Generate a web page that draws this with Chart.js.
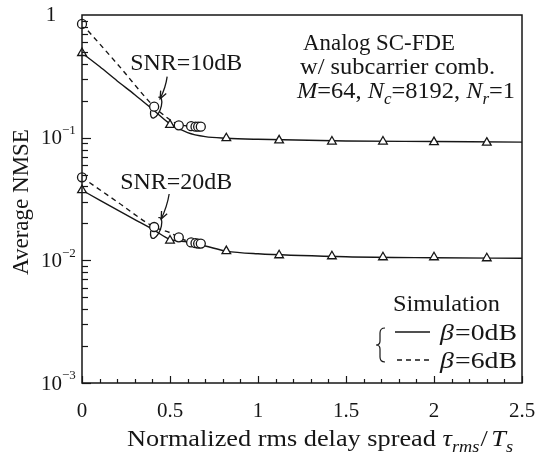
<!DOCTYPE html>
<html>
<head>
<meta charset="utf-8">
<script src="https://cdn.jsdelivr.net/npm/chart.js@4"></script>
<style>
  html, body { margin: 0; padding: 0; background: #fff; }
</style>
</head>
<body>
<canvas id="chart" width="538" height="455"></canvas>
<script>
const SERIF = '"Liberation Serif", "Times New Roman", serif';
const INK = '#161616';

// normalized rms delay spread positions
const tauTri = [0, 0.5, 0.82, 1.12, 1.42, 1.71, 2.0, 2.3];
const tauCirc = [0, 0.41, 0.55, 0.62, 0.645, 0.66, 0.675];
const tauLine = [0, 0.1, 0.2, 0.3, 0.41, 0.5, 0.6, 0.7, 0.82, 1.0, 1.5, 2.0, 2.5];
const tauDash = [0, 0.2, 0.41, 0.5, 0.55, 0.62, 0.675];

// SNR = 10 dB
const snr10Solid = [0.49, 0.38, 0.29, 0.224, 0.166, 0.13, 0.11, 0.102, 0.099, 0.097, 0.094, 0.093, 0.092];
const snr10Dash = [0.845, 0.40, 0.179, 0.14, 0.128, 0.124, 0.123];
const snr10Tri = [0.49, 0.127, 0.099, 0.095, 0.093, 0.093, 0.092, 0.091];
const snr10Circ = [0.845, 0.179, 0.126, 0.124, 0.123, 0.123, 0.123];

// SNR = 20 dB
const snr20Solid = [0.0373, 0.031, 0.0258, 0.0215, 0.0176, 0.0148, 0.0141, 0.0131, 0.0119, 0.0113, 0.0107, 0.0105, 0.0104];
const snr20Dash = [0.0475, 0.030, 0.0187, 0.0168, 0.0154, 0.0140, 0.0137];
const snr20Tri = [0.0373, 0.0145, 0.0119, 0.0110, 0.0108, 0.0106, 0.0106, 0.0104];
const snr20Circ = [0.0475, 0.0187, 0.0154, 0.0140, 0.0138, 0.0137, 0.0137];

const xTicks = [0, 0.5, 1, 1.5, 2, 2.5];
const yTicks = [1, 0.1, 0.01, 0.001];
const yTickExp = ['', '\u22121', '\u22122', '\u22123'];

function pts(xs, ys) {
    return xs.map((x, i) => ({ x, y: ys[i] }));
}

function lineSet(xs, ys, dashed) {
    return {
        data: pts(xs, ys),
        borderColor: INK,
        borderWidth: 1.4,
        borderDash: dashed ? [5, 4] : [],
        pointRadius: 0,
        cubicInterpolationMode: 'monotone',
        fill: false,
        clip: false,
        order: 2
    };
}

function markerSet(xs, ys, style) {
    return {
        data: pts(xs, ys),
        showLine: false,
        pointStyle: style,
        pointRadius: style === 'triangle' ? 5 : 4.5,
        pointBackgroundColor: '#fff',
        pointBorderColor: INK,
        pointBorderWidth: 1.3,
        clip: false,
        order: 1
    };
}

// draws a run of text pieces (italic / subscript) starting at x,
// optionally stretched to a given width
function rich(ctx, x, y, parts, size, width) {
    const fontFor = p => (p.i ? 'italic ' : '') + (p.sub ? Math.round(size * 0.7) : size) + 'px ' + SERIF;
    let w = 0;
    parts.forEach(p => { ctx.font = fontFor(p); w += ctx.measureText(p.t).width + (p.gap || 0); });
    ctx.save();
    ctx.translate(x, y);
    if (width) ctx.scale(width / w, 1);
    let cx = 0;
    parts.forEach(p => {
        ctx.font = fontFor(p);
        ctx.fillText(p.t, cx, p.sub ? size * 0.24 : 0);
        cx += ctx.measureText(p.t).width + (p.gap || 0);
    });
    ctx.restore();
}

function arrow(ctx, x0, y0, x1, y1, bend) {
    const mx = (x0 + x1) / 2 + bend, my = (y0 + y1) / 2;
    ctx.beginPath();
    ctx.moveTo(x0, y0);
    ctx.quadraticCurveTo(mx, my, x1, y1);
    ctx.stroke();
    const ang = Math.atan2(y1 - my, x1 - mx);
    ctx.beginPath();
    ctx.moveTo(x1 - 8 * Math.cos(ang - 0.4), y1 - 8 * Math.sin(ang - 0.4));
    ctx.lineTo(x1, y1);
    ctx.lineTo(x1 - 8 * Math.cos(ang + 0.4), y1 - 8 * Math.sin(ang + 0.4));
    ctx.stroke();
}

const decor = {
    id: 'decor',
    afterDraw(chart) {
        const { ctx, chartArea: a, scales: { x, y } } = chart;
        ctx.save();
        ctx.strokeStyle = INK;
        ctx.fillStyle = INK;

        // frame
        ctx.lineWidth = 1.5;
        ctx.strokeRect(a.left, a.top, a.right - a.left, a.bottom - a.top);

        // x ticks (inward)
        ctx.lineWidth = 1.2;
        for (let i = 0; i <= 25; i++) {
            const px = Math.round(x.getPixelForValue(i / 10)) + 0.5;
            const len = i % 5 === 0 ? 7 : 4;
            ctx.beginPath();
            ctx.moveTo(px, a.bottom);
            ctx.lineTo(px, a.bottom - len);
            ctx.stroke();
        }
        // y ticks (log, inward)
        for (let d = -3; d < 0; d++) {
            for (let m = 1; m < 10; m++) {
                const py = Math.round(y.getPixelForValue(m * Math.pow(10, d))) + 0.5;
                const len = m === 1 ? 9 : 6;
                ctx.beginPath();
                ctx.moveTo(a.left, py);
                ctx.lineTo(a.left + len, py);
                ctx.stroke();
            }
        }

        // y tick labels
        ctx.textBaseline = 'middle';
        yTicks.forEach((v, i) => {
            const py = y.getPixelForValue(v);
            ctx.font = '21px ' + SERIF;
            if (i === 0) {
                ctx.textAlign = 'center';
                ctx.fillText('1', a.left - 31, py);
            } else {
                ctx.textAlign = 'right';
                ctx.fillText('10', a.left - 20, py + 1);
                ctx.textAlign = 'left';
                ctx.font = '13px ' + SERIF;
                ctx.fillText(yTickExp[i], a.left - 20, py - 7);
            }
        });

        // axis titles
        ctx.textBaseline = 'alphabetic';
        ctx.textAlign = 'left';
        rich(ctx, a.left + 45, 446, [
            { t: 'Normalized rms delay spread ' }, { t: '\u03c4', i: true }, { t: 'rms', i: true, sub: true, gap: 1 },
            { t: '/', gap: 3 }, { t: 'T', i: true }, { t: 's', i: true, sub: true }
        ], 23, 386);

        ctx.save();
        ctx.translate(22, (a.top + a.bottom) / 2 + 3);
        ctx.rotate(-Math.PI / 2);
        ctx.textAlign = 'center';
        ctx.textBaseline = 'middle';
        ctx.font = '23px ' + SERIF;
        ctx.fillText('Average NMSE', 0, 0);
        ctx.restore();

        // text box, upper right
        ctx.textAlign = 'left';
        rich(ctx, a.left + 221, a.top + 35, [{ t: 'Analog SC-FDE' }], 23, 152);
        rich(ctx, a.left + 218, a.top + 59, [{ t: 'w/ subcarrier comb.' }], 23, 195);
        rich(ctx, a.left + 215, a.top + 83, [
            { t: 'M', i: true }, { t: '=64, ' }, { t: 'N', i: true }, { t: 'c', i: true, sub: true },
            { t: '=8192, ' }, { t: 'N', i: true }, { t: 'r', i: true, sub: true }, { t: '=1' }
        ], 23, 218);

        // SNR annotations, anchored on the circle at tau = 0.41
        [[snr10Circ[1], 'SNR=10dB'], [snr20Circ[1], 'SNR=20dB']].forEach(([v, label], k) => {
            const px = x.getPixelForValue(tauCirc[1]);
            const py = y.getPixelForValue(v);
            ctx.lineWidth = 1.3;
            ctx.beginPath();
            ctx.ellipse(px + 2, py + 1, 4.5, 11, 0.35, -1.9, 2.7);
            ctx.stroke();
            if (k === 0) arrow(ctx, px + 13, py - 30, px + 6, py - 8, 2);
            else arrow(ctx, px + 15, py - 33, px + 7, py - 8, 2);
            const lw = 112;
            rich(ctx, (k === 0 ? px + 32 : px + 22) - lw / 2, k === 0 ? py - 37 : py - 38, [{ t: label }], 23, lw);
        });

        // legend, lower right
        const lx = a.right, ly = a.bottom;
        rich(ctx, lx - 129, ly - 72, [{ t: 'Simulation' }], 23, 107);
        ctx.lineWidth = 1.4;
        ctx.beginPath();
        ctx.moveTo(lx - 127, ly - 51);
        ctx.lineTo(lx - 92, ly - 51);
        ctx.stroke();
        ctx.setLineDash([5, 4]);
        ctx.beginPath();
        ctx.moveTo(lx - 125, ly - 23);
        ctx.lineTo(lx - 92, ly - 23);
        ctx.stroke();
        ctx.setLineDash([]);
        rich(ctx, lx - 82, ly - 43, [{ t: '\u03b2', i: true, gap: 1 }, { t: '=0dB' }], 23, 77);
        rich(ctx, lx - 82, ly - 15, [{ t: '\u03b2', i: true, gap: 1 }, { t: '=6dB' }], 23, 77);
        // brace
        const bx = lx - 142, bt = ly - 55, bb = ly - 21, bm = (bt + bb) / 2;
        ctx.lineWidth = 1.2;
        ctx.beginPath();
        ctx.moveTo(bx + 5, bt);
        ctx.quadraticCurveTo(bx, bt, bx, bt + 5);
        ctx.lineTo(bx, bm - 4);
        ctx.quadraticCurveTo(bx, bm, bx - 4, bm);
        ctx.quadraticCurveTo(bx, bm, bx, bm + 4);
        ctx.lineTo(bx, bb - 5);
        ctx.quadraticCurveTo(bx, bb, bx + 5, bb);
        ctx.stroke();

        ctx.restore();
    }
};

new Chart(document.getElementById('chart'), {
    type: 'line',
    data: {
        datasets: [
            lineSet(tauLine, snr10Solid, false),
            lineSet(tauDash, snr10Dash, true),
            lineSet(tauLine, snr20Solid, false),
            lineSet(tauDash, snr20Dash, true),
            markerSet(tauTri, snr10Tri, 'triangle'),
            markerSet(tauCirc, snr10Circ, 'circle'),
            markerSet(tauTri, snr20Tri, 'triangle'),
            markerSet(tauCirc, snr20Circ, 'circle')
        ]
    },
    options: {
        responsive: false,
        animation: false,
        layout: { padding: { top: 15, right: 16, left: 0, bottom: 0 } },
        plugins: { legend: { display: false }, tooltip: { enabled: false } },
        scales: {
            x: {
                type: 'linear',
                min: 0,
                max: 2.5,
                grid: { display: false, drawTicks: false },
                border: { display: false },
                afterBuildTicks: s => { s.ticks = xTicks.map(v => ({ value: v })); },
                afterFit: s => { s.height = 72; s.paddingLeft = 0; s.paddingRight = 0; },
                ticks: {
                    color: INK,
                    padding: 16,
                    maxRotation: 0,
                    font: { family: SERIF, size: 21 },
                    callback: v => String(v)
                }
            },
            y: {
                type: 'logarithmic',
                min: 0.001,
                max: 1,
                grid: { display: false, drawTicks: false },
                border: { display: false },
                afterFit: s => { s.width = 82; s.paddingTop = 0; s.paddingBottom = 0; },
                ticks: { display: false }
            }
        }
    },
    plugins: [decor]
});
</script>
</body>
</html>
